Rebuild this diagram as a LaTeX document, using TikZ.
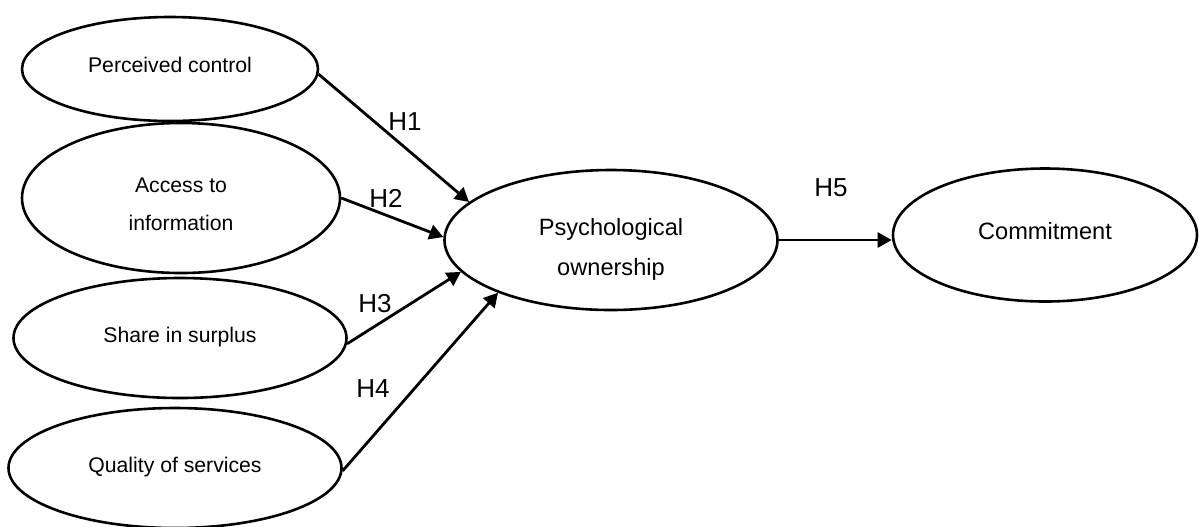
\documentclass[tikz,border=0pt]{standalone}
\usepackage{fontspec}
\setmainfont{Liberation Sans}
\usetikzlibrary{shapes.geometric,arrows.meta}
\begin{document}
\begin{tikzpicture}[x=0.5pt,y=-0.5pt,
  oval/.style={ellipse,draw,line width=1.3pt,inner sep=0pt},
  txt/.style={align=center,inner sep=0pt},
  small/.style={font=\fontsize{10.6}{19}\selectfont},
  big/.style={font=\fontsize{11.8}{20}\selectfont},
  hlab/.style={font=\fontsize{13}{15}\selectfont,inner sep=0pt},
  arr/.style={line width=1.4pt,-{Triangle[length=7pt,width=7.5pt]}}]
\useasboundingbox (0,0) rectangle (1199,526);
\clip (0,0) rectangle (1199,526);
\node[font=\bfseries\fontsize{12.9}{15}\selectfont,anchor=base] (title) at (556,-7.5) {Figure 1: Conceptual Model};
\node[oval,minimum width=148pt,minimum height=52pt] (pc) at (170,69) {};
\node[txt,small] (pct) at (170,65) {Perceived control};
\node[oval,minimum width=159pt,minimum height=75pt] (ai) at (181,198) {};
\node[txt,small] (ait) at (181,204) {Access to\\information};
\node[oval,minimum width=166.5pt,minimum height=60pt] (ss) at (180,338) {};
\node[txt,small] (sst) at (180,337) {Share in surplus};
\node[oval,minimum width=166.5pt,minimum height=60pt] (qs) at (175,468) {};
\node[txt,small] (qst) at (175,467) {Quality of services};
\node[oval,minimum width=166.5pt,minimum height=70pt] (po) at (611,240) {};
\node[txt,big] (pot) at (611,249) {Psychological\\ownership};
\node[oval,minimum width=152pt,minimum height=66.5pt] (cm) at (1045,235) {};
\node[txt,big] (cmt) at (1045,231) {Commitment};
\draw[arr] (pc.-2.3) -- (po.165.2);
\draw[arr] (ai.-0.7) -- (po.179.3);
\draw[arr] (ss.-2.4) -- (po.192.5);
\draw[arr] (qs.-1.4) -- (po.205.2);
\draw[arr] (po.east) -- (po.east -| cm.west);
\node[hlab] (h1) at (405,122) {H1};
\node[hlab] (h2) at (386,198) {H2};
\node[hlab] (h3) at (375,304) {H3};
\node[hlab] (h4) at (373,389) {H4};
\node[hlab] (h5) at (831,188) {H5};
\end{tikzpicture}
\end{document}
